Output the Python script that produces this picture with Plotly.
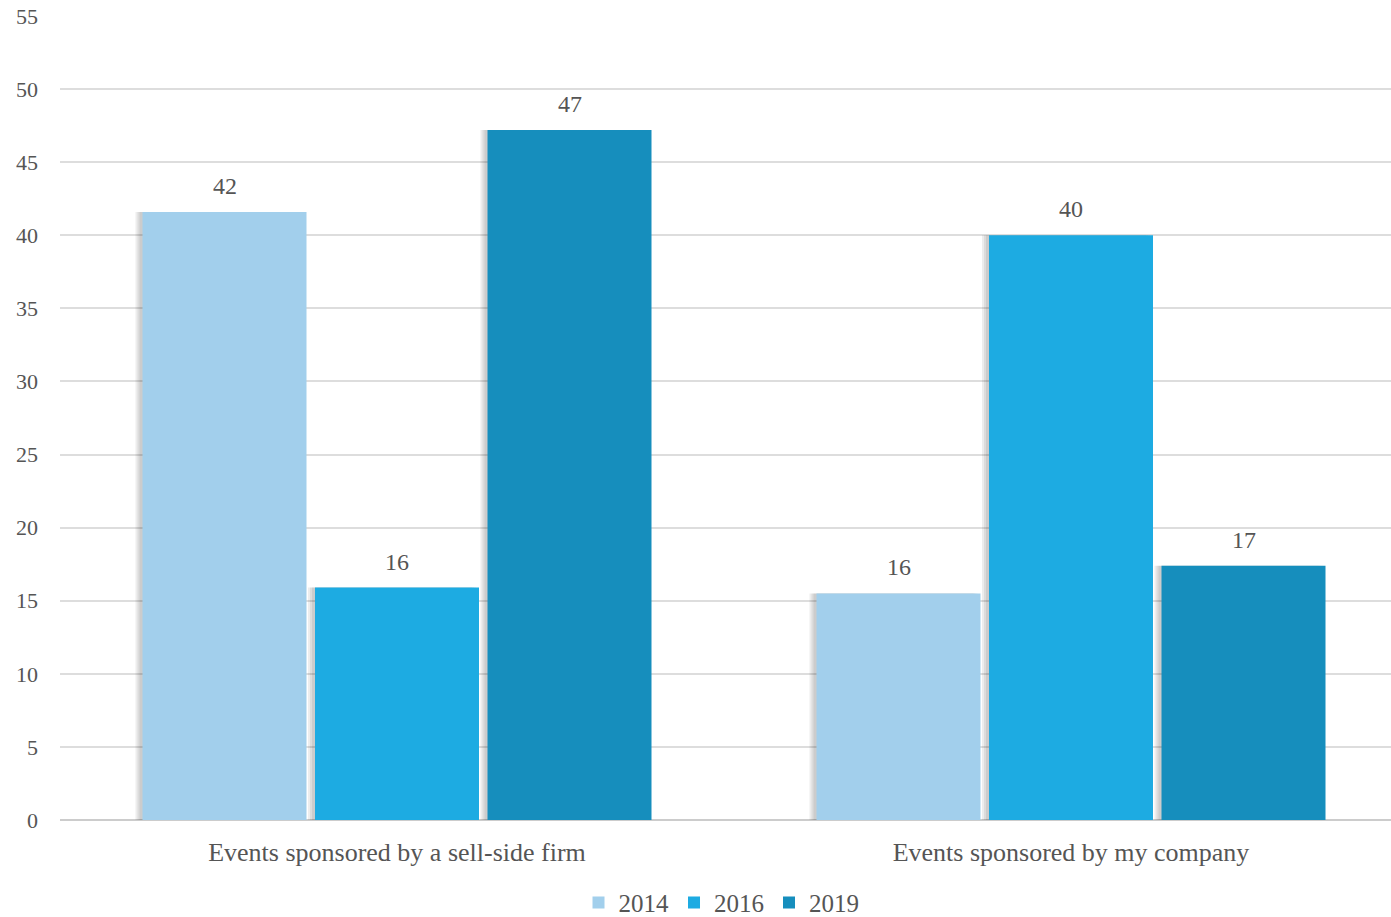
import plotly.graph_objects as go

categories = ["Events sponsored by a sell-side firm", "Events sponsored by my company"]
years = ["2014", "2016", "2019"]
values_2014 = [41.6, 15.5]
values_2016 = [15.9, 40.0]
values_2019 = [47.2, 17.4]
series = [values_2014, values_2016, values_2019]
colors = ["#A2CFEC", "#1DABE2", "#168EBD"]
y_ticks = list(range(0, 56, 5))

FONT = "Liberation Serif"
TXT = "#555555"

W, H = 1391, 917
ml, mr, mt, mb = 60, 0, 16, 97
px_per_cat = 674.0
bar_w = 164 / px_per_cat
slot = 172.5 / px_per_cat
centers = [-slot, 0.0, slot]

fig = go.Figure()
x_idx = list(range(len(categories)))

# soft shadows on the left of each bar
for s, vals in enumerate(series):
    for k, shift in enumerate([7, 5, 3]):
        d = shift / px_per_cat
        fig.add_trace(go.Bar(
            x=x_idx, y=vals, width=bar_w, offset=centers[s] - bar_w / 2 - d,
            marker=dict(color="rgba(0,0,0,0.07)", line=dict(width=0)),
            showlegend=False, hoverinfo="skip"))

for s, vals in enumerate(series):
    fig.add_trace(go.Bar(
        x=x_idx, y=vals, name=years[s], width=bar_w, offset=centers[s] - bar_w / 2,
        marker=dict(color=colors[s], line=dict(width=0))))
    for i, v in zip(x_idx, vals):
        fig.add_annotation(x=i, y=v, xref="x", yref="y", text=f"{v:.0f}",
                           showarrow=False, yanchor="bottom",
                           xshift=centers[s] * px_per_cat, yshift=11,
                           font=dict(family=FONT, size=24, color=TXT))

fig.update_layout(
    width=W, height=H, barmode="overlay",
    margin=dict(l=ml, r=mr, t=mt, b=mb, autoexpand=False),
    paper_bgcolor="white", plot_bgcolor="white",
    font=dict(family=FONT, color=TXT, size=22),
    xaxis=dict(tickmode="array", tickvals=x_idx, ticktext=categories,
               range=[-0.5, -0.5 + (W - ml - mr) / px_per_cat],
               showgrid=False, zeroline=False, showline=False, ticks="",
               ticklabelstandoff=14, automargin=False,
               tickfont=dict(family=FONT, size=26, color=TXT)),
    yaxis=dict(range=[0, 55], tickvals=y_ticks, showgrid=True, gridcolor="#DDDDDD",
               gridwidth=2, zeroline=True, zerolinecolor="#CCCCCC", zerolinewidth=2,
               showline=False, ticks="", ticklabelstandoff=21, automargin=False,
               tickfont=dict(family=FONT, size=22, color=TXT)),
    legend=dict(orientation="h", x=0.497, xanchor="center", y=-0.1315, yanchor="bottom",
                font=dict(family=FONT, size=25, color=TXT), itemclick=False,
                traceorder="normal"),
    showlegend=True,
)

fig.write_html("out.html")
